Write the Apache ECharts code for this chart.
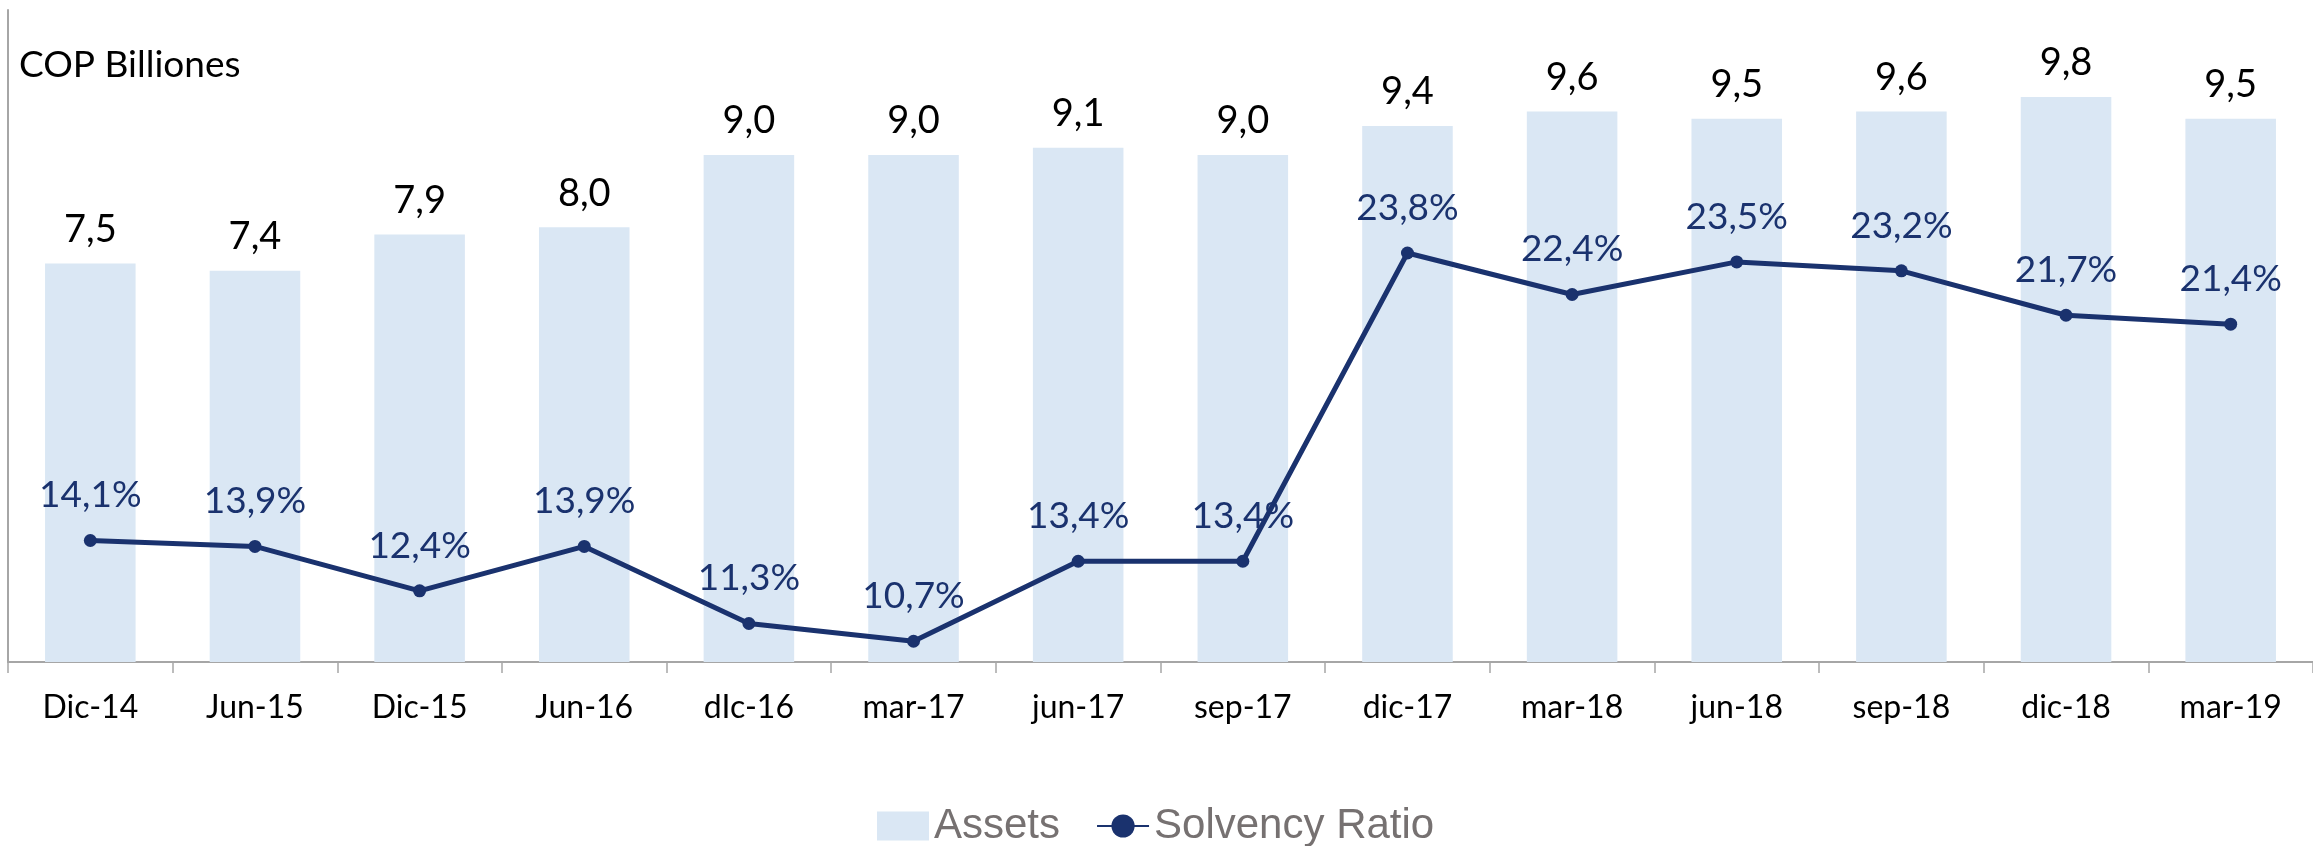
<!DOCTYPE html>
<html>
<head>
<meta charset="utf-8">
<script src="https://cdn.jsdelivr.net/npm/echarts@6/dist/echarts.min.js"></script>
<style>
  html, body { margin: 0; padding: 0; background: #fff; }
  #chart { width: 2313px; height: 846px; }
</style>
</head>
<body>
<div id="chart"></div>
<script>
// periods on the x axis
var periods = ['Dic-14', 'Jun-15', 'Dic-15', 'Jun-16', 'dIc-16', 'mar-17', 'jun-17',
  'sep-17', 'dic-17', 'mar-18', 'jun-18', 'sep-18', 'dic-18', 'mar-19'];

// assets, COP billiones
var assets = [7.5, 7.4, 7.9, 8.0, 9.0, 9.0, 9.1, 9.0, 9.4, 9.6, 9.5, 9.6, 9.8, 9.5];

// solvency ratio, %
var solvency = [14.1, 13.9, 12.4, 13.9, 11.3, 10.7, 13.4, 13.4, 23.8, 22.4, 23.5, 23.2, 21.7, 21.4];

var barColor = '#DAE7F4';
var lineColor = '#1A326E';
var font = 'Lato';

function comma(v, digits) {
    return v.toFixed(digits).replace('.', ',');
}

var chart = echarts.init(document.getElementById('chart'));

var option = {
    backgroundColor: '#ffffff',
    animation: false,
    title: {
        text: 'COP Billiones',
        left: 14,
        top: 42,
        textStyle: {
            fontFamily: font,
            fontSize: 37,
            fontWeight: 'normal',
            color: '#000'
        }
    },
    legend: {
        left: 872,
        top: 800,
        itemGap: 36,
        itemWidth: 52,
        itemHeight: 29,
        textStyle: {
            fontFamily: 'Liberation Sans',
            fontSize: 42,
            color: '#767171'
        },
        data: [
            { name: 'Assets', icon: 'rect' },
            { name: 'Solvency Ratio' }
        ]
    },
    grid: {
        left: 8,
        right: -15,
        top: 10,
        bottom: 184,
        containLabel: false
    },
    xAxis: {
        type: 'category',
        data: periods,
        axisLine: { lineStyle: { color: '#A6A6A6', width: 2 } },
        axisTick: { show: true, length: 11, lineStyle: { color: '#A6A6A6', width: 1.5 } },
        axisLabel: {
            margin: 30,
            fontFamily: font,
            fontSize: 32,
            color: '#000'
        }
    },
    yAxis: [
        {
            type: 'value',
            min: 2,
            max: 11,
            axisLine: { show: true, lineStyle: { color: '#A6A6A6', width: 2 } },
            axisTick: { show: false },
            axisLabel: { show: false },
            splitLine: { show: false }
        },
        {
            type: 'value',
            min: 10,
            max: 32,
            position: 'right',
            axisLine: { show: false },
            axisTick: { show: false },
            axisLabel: { show: false },
            splitLine: { show: false }
        }
    ],
    series: [
        {
            name: 'Assets',
            type: 'bar',
            data: assets,
            barWidth: '55%',
            itemStyle: { color: barColor },
            label: {
                show: true,
                position: 'top',
                distance: 15,
                fontFamily: font,
                fontSize: 38,
                color: '#000',
                formatter: function (p) { return comma(p.value, 1); }
            }
        },
        {
            name: 'Solvency Ratio',
            type: 'line',
            yAxisIndex: 1,
            data: solvency,
            symbol: 'circle',
            symbolSize: 13,
            lineStyle: { color: lineColor, width: 5 },
            itemStyle: { color: lineColor },
            label: {
                show: true,
                position: 'top',
                distance: 20,
                fontFamily: font,
                fontSize: 37,
                color: lineColor,
                formatter: function (p) { return comma(p.value, 1) + '%'; }
            }
        }
    ]
};

chart.setOption(option);
</script>
</body>
</html>
